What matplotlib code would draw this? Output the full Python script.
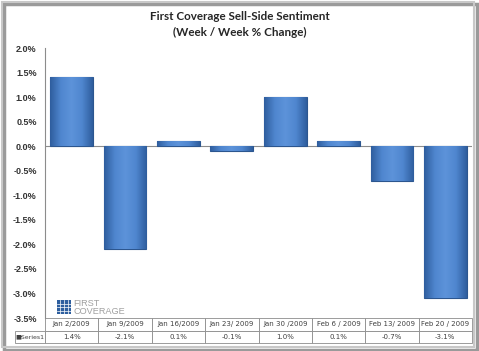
import matplotlib.pyplot as plt
from matplotlib.patches import Rectangle
from matplotlib.colors import LinearSegmentedColormap
import numpy as np

dates = ['Jan 2/2009', 'Jan 9/2009', 'Jan 16/2009', 'Jan 23/ 2009', 'Jan 30 /2009',
         'Feb 6 / 2009', 'Feb 13/ 2009', 'Feb 20 / 2009']
values = [1.4, -2.1, 0.1, -0.1, 1.0, 0.1, -0.7, -3.1]
value_labels = ['1.4%', '-2.1%', '0.1%', '-0.1%', '1.0%', '0.1%', '-0.7%', '-3.1%']
series_name = 'Series1'
yticks = [2.0, 1.5, 1.0, 0.5, 0.0, -0.5, -1.0, -1.5, -2.0, -2.5, -3.0, -3.5]

W, H = 479, 351
fig = plt.figure(figsize=(W / 100, H / 100), dpi=100)
fig.patch.set_facecolor('white')

# outer frame with a little shadow
fig.patches.append(Rectangle((4 / W, 1 / H), 473 / W, 346 / H, transform=fig.transFigure,
                             facecolor='none', edgecolor='#9a9a9a', lw=2.5))
fig.patches.append(Rectangle((2 / W, 4 / H), 472 / W, 345 / H, transform=fig.transFigure,
                             facecolor='none', edgecolor='#c8c8c8', lw=1.5))

left, right, top, bottom = 45, 472, 48, 318
ax = fig.add_axes([left / W, 1 - bottom / H, (right - left) / W, (bottom - top) / H])

x = np.arange(len(values))
bars = ax.bar(x, values, width=0.8, color='#4677be', edgecolor='#2c568f', linewidth=0.8, zorder=3)

# horizontal shading like the original bars
shade = LinearSegmentedColormap.from_list('shade', ['#2f5e9e', '#4f86cf', '#5d93da', '#4f86cf', '#2f5e9e'])
grad = np.linspace(0, 1, 64).reshape(1, -1)
for b in bars:
    x0, y0, w, h = b.get_x(), b.get_y(), b.get_width(), b.get_height()
    im = ax.imshow(grad, cmap=shade, aspect='auto', zorder=3.5,
                   extent=[x0, x0 + w, min(y0, y0 + h), max(y0, y0 + h)])
    im.set_clip_path(b)

ax.axhline(0, color='#8c8c8c', lw=0.8, zorder=2)

ax.set_xlim(-0.5, len(values) - 0.5)
ax.set_ylim(-3.5, 2.0)
ax.set_yticks(yticks)
ax.set_yticklabels(['%.1f%%' % v for v in yticks], fontsize=6.5, fontweight='bold',
                   color='#333333', family='Liberation Sans')
ax.tick_params(axis='y', length=0, pad=6)
ax.set_xticks([])
for s in ['top', 'right', 'bottom']:
    ax.spines[s].set_visible(False)
ax.spines['left'].set_color('#8c8c8c')
ax.spines['left'].set_linewidth(0.8)

fig.text(0.5, 1 - 17 / H, 'First Coverage Sell-Side Sentiment', ha='center', va='center',
         fontsize=8.4, fontweight='bold', family='Lato', color='#262626')
fig.text(0.5, 1 - 32 / H, '(Week / Week % Change)', ha='center', va='center',
         fontsize=8.4, fontweight='bold', family='Lato', color='#262626')

# data table under the axis
cell_text = [[''] + dates, [series_name] + value_labels]
tw = (right - 15) / (right - left)
colw = [30 / (right - left)] + [(right - left) / 8 / (right - left)] * 8
tab = ax.table(cellText=cell_text, colWidths=colw, cellLoc='center',
               bbox=[-30 / (right - left), -25 / (bottom - top), tw, 25 / (bottom - top)])
tab.auto_set_font_size(False)
for (r, c), cell in tab.get_celld().items():
    cell.set_edgecolor('#8c8c8c')
    cell.set_linewidth(0.6)
    cell.get_text().set_fontsize(5)
    cell.get_text().set_color('#404040')
    if r == 0 and c == 0:
        cell.visible_edges = ''
    if r == 1 and c == 0:
        cell.get_text().set_text('\u25a0' + series_name)
        cell.get_text().set_fontsize(4.5)

# logo
lx, ly, ls = 57, 300, 14
fig.patches.append(Rectangle((lx / W, 1 - (ly + ls) / H), ls / W, ls / H,
                             transform=fig.transFigure, facecolor='#2d5e9e', edgecolor='none'))
for i in range(1, 4):
    fig.lines.append(plt.Line2D([(lx + i * ls / 4) / W] * 2, [1 - (ly + ls) / H, 1 - ly / H],
                                transform=fig.transFigure, color='white', lw=0.5))
    fig.lines.append(plt.Line2D([lx / W, (lx + ls) / W], [1 - (ly + i * ls / 4) / H] * 2,
                                transform=fig.transFigure, color='white', lw=0.5))
fig.text((lx + 16) / W, 1 - (ly + 3.3) / H, 'FIRST', fontsize=6.6, color='#a0a0a0',
         va='center', ha='left', family='Liberation Sans')
fig.text((lx + 16) / W, 1 - (ly + 11) / H, 'COVERAGE', fontsize=6.6, color='#a0a0a0',
         va='center', ha='left', family='Liberation Sans')

fig.savefig('out.png', dpi=100)
